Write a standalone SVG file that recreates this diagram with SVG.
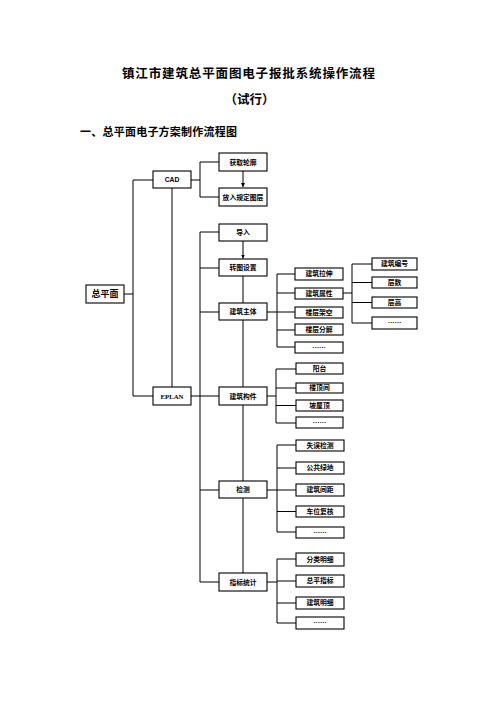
<svg xmlns="http://www.w3.org/2000/svg" width="496" height="702" viewBox="0 0 496 702">
<style>
.b{fill:#fff;stroke:#000;stroke-width:1.1}
.t{font-family:"Noto Sans CJK SC","Noto Sans",sans-serif;font-weight:bold;font-size:6.8px;text-anchor:middle;fill:#000}
.l{fill:none;stroke:#000;stroke-width:1}
</style>
<defs>
<marker id="ar" viewBox="0 0 6 6" refX="6" refY="3" markerWidth="4" markerHeight="4" orient="auto"><path d="M0,0L6,3L0,6z" fill="#000"/></marker>
</defs>
<rect width="496" height="702" fill="#fff"/>
<text x="248.5" y="77.5" font-family="Noto Sans CJK SC,sans-serif" font-weight="bold" font-size="12.5" text-anchor="middle" textLength="253" lengthAdjust="spacing">镇江市建筑总平面图电子报批系统操作流程</text>
<text x="249.5" y="104" font-family="Noto Sans CJK SC,sans-serif" font-weight="bold" font-size="12.5" text-anchor="middle">（试行）</text>
<text x="80" y="136" font-family="Noto Sans CJK SC,sans-serif" font-weight="bold" font-size="11" textLength="157" lengthAdjust="spacing">一、总平面电子方案制作流程图</text>
<g id="connectors">
<path class="l" d="M124,294H133V180H153M133,294V396H153"/>
<path class="l" d="M172,188V387"/>
<path class="l" d="M191,180H200M200,162V197M200,162H219M200,197H219"/>
<path class="l" d="M243,171V187" marker-end="url(#ar)"/>
<path class="l" d="M243,241V258.5" marker-end="url(#ar)"/>
<path class="l" d="M243,276V303M243,320V387M243,405V481M243,498V573"/>
<path class="l" d="M191,396H219M200,232V582M200,232H219M200,268H219M200,312H219M200,490H219M200,582H219"/>
<path class="l" d="M267,312H277M277,274V347M277,274H295M277,293H295M277,312H295M277,330H295M277,347H295"/>
<path class="l" d="M343,293H352M352,264V323M352,264H372M352,282.5H372M352,302.5H372M352,323H372"/>
<path class="l" d="M267,396H276M276,369V423M276,369H296M276,388H296M276,405.5H296M276,423H296"/>
<path class="l" d="M267,490H277M277,445V532M277,445H296M277,468H296M277,490H296M277,511.5H296M277,532H296"/>
<path class="l" d="M267,582H277M277,559V623M277,559H296M277,581H296M277,603H296M277,623H296"/>
</g>
<g id="n-zpm"><rect class="b" x="86" y="285" width="38" height="18"/><text class="t" x="105" y="297.3" style="font-size:9px">总平面</text></g>
<g id="n-cad"><rect class="b" x="153" y="171" width="38" height="17"/><text class="t" x="172" y="182" style="font-family:'Liberation Sans',sans-serif">CAD</text></g>
<g id="n-eplan"><rect class="b" x="153" y="387" width="38" height="18"/><text class="t" x="172" y="398.5" style="font-family:'Liberation Serif',serif">EPLAN</text></g>
<g id="n-hqlk"><rect class="b" x="219" y="153" width="48" height="18"/><text class="t" x="243" y="164.5">获取轮廓</text></g>
<g id="n-frgd"><rect class="b" x="219" y="188" width="48" height="18"/><text class="t" x="243" y="199.5">放入规定图层</text></g>
<g id="n-dr"><rect class="b" x="219" y="224" width="48" height="17"/><text class="t" x="243" y="235">导入</text></g>
<g id="n-ztsz"><rect class="b" x="219" y="259" width="48" height="17"/><text class="t" x="243" y="270">转图设置</text></g>
<g id="n-jzzt"><rect class="b" x="219" y="303" width="48" height="17"/><text class="t" x="243" y="314">建筑主体</text></g>
<g id="n-jzgj"><rect class="b" x="219" y="387" width="48" height="18"/><text class="t" x="243" y="398.5">建筑构件</text></g>
<g id="n-jc"><rect class="b" x="219" y="481" width="48" height="17"/><text class="t" x="243" y="492">检测</text></g>
<g id="n-zbtj"><rect class="b" x="219" y="573" width="48" height="18"/><text class="t" x="243" y="584.5">指标统计</text></g>
<g id="n-jzls"><rect class="b" x="295" y="268" width="48" height="12"/><text class="t" x="319" y="276.4">建筑拉伸</text></g>
<g id="n-jzsx"><rect class="b" x="295" y="288" width="48" height="11"/><text class="t" x="319" y="295.9">建筑属性</text></g>
<g id="n-lcjk"><rect class="b" x="295" y="307" width="48" height="11"/><text class="t" x="319" y="314.9">楼层架空</text></g>
<g id="n-lcfj"><rect class="b" x="295" y="324" width="48" height="11"/><text class="t" x="319" y="331.9">楼层分解</text></g>
<g id="n-zt1"><rect class="b" x="295" y="342" width="48" height="11"/><text class="t" x="319" y="349.9">……</text></g>
<g id="n-jzbh"><rect class="b" x="372" y="258" width="45" height="12"/><text class="t" x="394.5" y="266.4">建筑编号</text></g>
<g id="n-cs"><rect class="b" x="372" y="277" width="45" height="11"/><text class="t" x="394.5" y="284.9">层数</text></g>
<g id="n-cg"><rect class="b" x="372" y="297" width="45" height="11"/><text class="t" x="394.5" y="304.9">层高</text></g>
<g id="n-sx1"><rect class="b" x="372" y="317" width="45" height="12"/><text class="t" x="394.5" y="325.4">……</text></g>
<g id="n-yt"><rect class="b" x="296" y="363" width="47" height="11"/><text class="t" x="319.5" y="370.9">阳台</text></g>
<g id="n-ldj"><rect class="b" x="296" y="383" width="47" height="10"/><text class="t" x="319.5" y="390.4">楼顶间</text></g>
<g id="n-pwd"><rect class="b" x="296" y="400" width="47" height="11"/><text class="t" x="319.5" y="407.9">坡屋顶</text></g>
<g id="n-gj1"><rect class="b" x="296" y="417" width="47" height="11"/><text class="t" x="319.5" y="424.9">……</text></g>
<g id="n-swjc"><rect class="b" x="296" y="440" width="48" height="11"/><text class="t" x="320" y="447.9">失误检测</text></g>
<g id="n-ggld"><rect class="b" x="296" y="462" width="48" height="12"/><text class="t" x="320" y="470.4">公共绿地</text></g>
<g id="n-jzjj"><rect class="b" x="296" y="484" width="48" height="12"/><text class="t" x="320" y="492.4">建筑间距</text></g>
<g id="n-cwfh"><rect class="b" x="296" y="506" width="48" height="11"/><text class="t" x="320" y="513.9">车位复核</text></g>
<g id="n-jc1"><rect class="b" x="296" y="527" width="48" height="11"/><text class="t" x="320" y="534.9">……</text></g>
<g id="n-flmx"><rect class="b" x="296" y="553" width="48" height="13"/><text class="t" x="320" y="561.9">分类明细</text></g>
<g id="n-zpzb"><rect class="b" x="296" y="575" width="48" height="12"/><text class="t" x="320" y="583.4">总平指标</text></g>
<g id="n-jzmx"><rect class="b" x="296" y="597" width="48" height="12"/><text class="t" x="320" y="605.4">建筑明细</text></g>
<g id="n-tj1"><rect class="b" x="296" y="617" width="48" height="12"/><text class="t" x="320" y="625.4">……</text></g>
</svg>
